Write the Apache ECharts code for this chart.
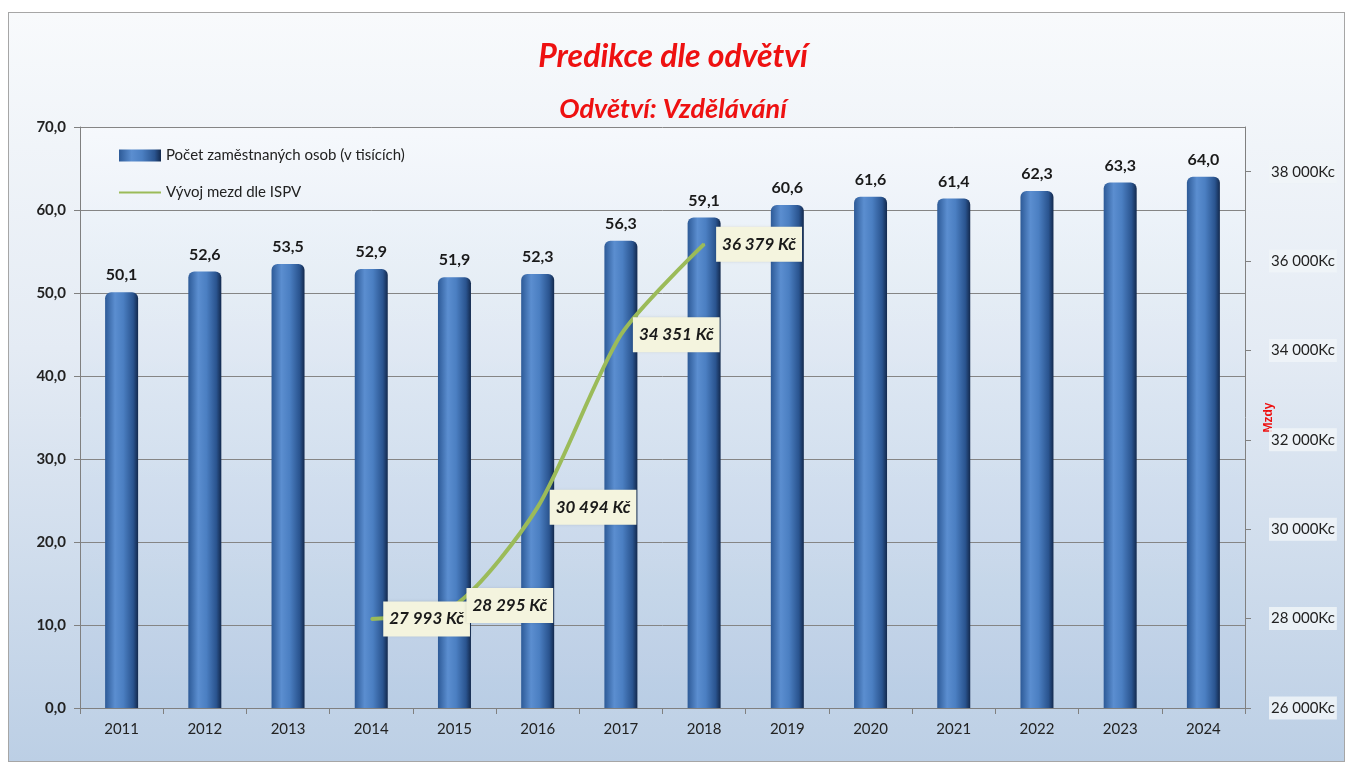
<!DOCTYPE html>
<html>
<head>
<meta charset="utf-8">
<script src="https://cdn.jsdelivr.net/npm/echarts@6/dist/echarts.min.js"></script>
<style>
  body { margin: 0; background: #fff; overflow: hidden; }
  .frame {
    position: absolute; left: 8px; top: 12px; width: 1337px; height: 750px;
    border: 1px solid #a6a6a6; box-sizing: border-box;
    background: linear-gradient(to bottom, #f8fafc 0%, #e4ebf4 45%, #bccfe5 100%);
  }
  #chart { position: absolute; left: 0; top: 0; width: 1346px; height: 762px; }
</style>
</head>
<body>
<div class="frame"></div>
<div id="chart"></div>
<script>
  // roky
  const years = ['2011', '2012', '2013', '2014', '2015', '2016', '2017',
    '2018', '2019', '2020', '2021', '2022', '2023', '2024'];
  // počet zaměstnaných osob (v tisících)
  const employees = [50.1, 52.6, 53.5, 52.9, 51.9, 52.3, 56.3, 59.1, 60.6, 61.6, 61.4, 62.3, 63.3, 64.0];
  // vývoj mezd dle ISPV (Kč)
  const wages = [null, null, null, 27993, 28295, 30494, 34351, 36379, null, null, null, null, null, null];

  const fmtThousands = v => String(Math.round(v)).replace(/\B(?=(\d{3})+(?!\d))/g, ' ');
  const font = 'Lato, "Open Sans", sans-serif';

  const chart = echarts.init(document.getElementById('chart'));
  chart.setOption({
    backgroundColor: 'transparent',
    textStyle: {fontFamily: font},
    title: [
      {
        text: 'Predikce dle odvětví',
        left: 'center',
        top: 36,
        textStyle: {color: '#ee1111', fontSize: 32, fontWeight: 'bold', fontStyle: 'italic', fontFamily: font},
      },
      {
        text: 'Odvětví: Vzdělávání',
        left: 'center',
        top: 91,
        textStyle: {color: '#ee1111', fontSize: 27, fontWeight: 'bold', fontStyle: 'italic', fontFamily: font},
      },
    ],
    legend: {
      orient: 'vertical',
      left: 113,
      top: 143,
      itemWidth: 42,
      itemHeight: 12,
      itemGap: 22,
      textStyle: {fontSize: 15, color: '#222', fontFamily: font},
      data: [
        {name: 'Počet zaměstnaných osob (v tisících)', icon: 'rect'},
        {name: 'Vývoj mezd dle ISPV', itemStyle: {opacity: 0}},
      ],
    },
    grid: {
      left: 80,
      right: 101,
      top: 127,
      bottom: 54,
      outerBoundsMode: 'none',
      show: true,
      borderWidth: 0,
      backgroundColor: new echarts.graphic.LinearGradient(0, 0, 0, 1, [
        {offset: 0, color: 'rgba(246,249,252,0.9)'},
        {offset: 1, color: 'rgba(184,204,228,0.9)'},
      ]),
    },
    xAxis: {
      type: 'category',
      data: years,
      axisLine: {lineStyle: {color: '#808080'}},
      axisTick: {show: true, length: 6, lineStyle: {color: '#808080'}},
      axisLabel: {fontSize: 15, color: '#222', margin: 14},
    },
    yAxis: [
      {
        type: 'value',
        min: 0,
        max: 70,
        interval: 10,
        axisLine: {show: true, lineStyle: {color: '#808080'}},
        axisTick: {show: true, length: 6, lineStyle: {color: '#808080'}},
        axisLabel: {
          fontSize: 15, color: '#222', fontWeight: 'bold', margin: 14,
          formatter: v => v.toFixed(1).replace('.', ','),
        },
        splitLine: {lineStyle: {color: '#858585', width: 1}},
      },
      {
        type: 'value',
        min: 26000,
        max: 39000,
        interval: 2000,
        name: 'Mzdy',
        nameLocation: 'middle',
        nameRotate: 90,
        nameGap: 18,
        nameMoveOverlap: false,
        nameTextStyle: {color: '#ee1111', fontWeight: 'bold', fontSize: 12, fontFamily: 'Arial, sans-serif'},
        axisLine: {show: true, lineStyle: {color: '#808080'}},
        axisTick: {show: true, length: 6, lineStyle: {color: '#808080'}},
        axisLabel: {
          fontSize: 15, color: '#222', margin: 24, showMaxLabel: false,
          backgroundColor: 'rgba(240,244,248,0.85)', padding: [4, 2],
          formatter: v => fmtThousands(v) + 'Kc',
        },
        splitLine: {show: false},
      },
    ],
    series: [
      {
        name: 'Počet zaměstnaných osob (v tisících)',
        type: 'bar',
        barWidth: 33,
        data: employees,
        itemStyle: {
          color: new echarts.graphic.LinearGradient(0, 0, 1, 0, [
            {offset: 0, color: '#2d5a97'},
            {offset: 0.3, color: '#5b8ed0'},
            {offset: 0.55, color: '#4b7fc2'},
            {offset: 0.85, color: '#2a548f'},
            {offset: 1, color: '#13294d'},
          ]),
          borderRadius: [6, 6, 0, 0],
        },
        label: {
          show: true,
          position: 'top',
          distance: 9,
          fontSize: 16,
          color: '#1a1a1a',
          fontWeight: 'bold',
          formatter: p => p.value.toFixed(1).replace('.', ','),
        },
      },
      {
        name: 'Vývoj mezd dle ISPV',
        type: 'line',
        yAxisIndex: 1,
        data: wages,
        smooth: 0.25,
        symbol: 'circle',
        symbolSize: 2,
        lineStyle: {color: '#9bbb59', width: 4},
        itemStyle: {color: '#9bbb59'},
        z: 5,
        label: {
          show: true,
          position: 'right',
          distance: 11,
          fontSize: 17,
          fontStyle: 'italic',
          fontWeight: 'bold',
          color: '#1a1a1a',
          backgroundColor: '#f4f4de',
          padding: [9, 6],
          shadowColor: 'rgba(0,0,0,0.15)',
          shadowBlur: 3,
          formatter: p => fmtThousands(p.value) + ' Kč',
        },
      },
    ],
  });
</script>
</body>
</html>
